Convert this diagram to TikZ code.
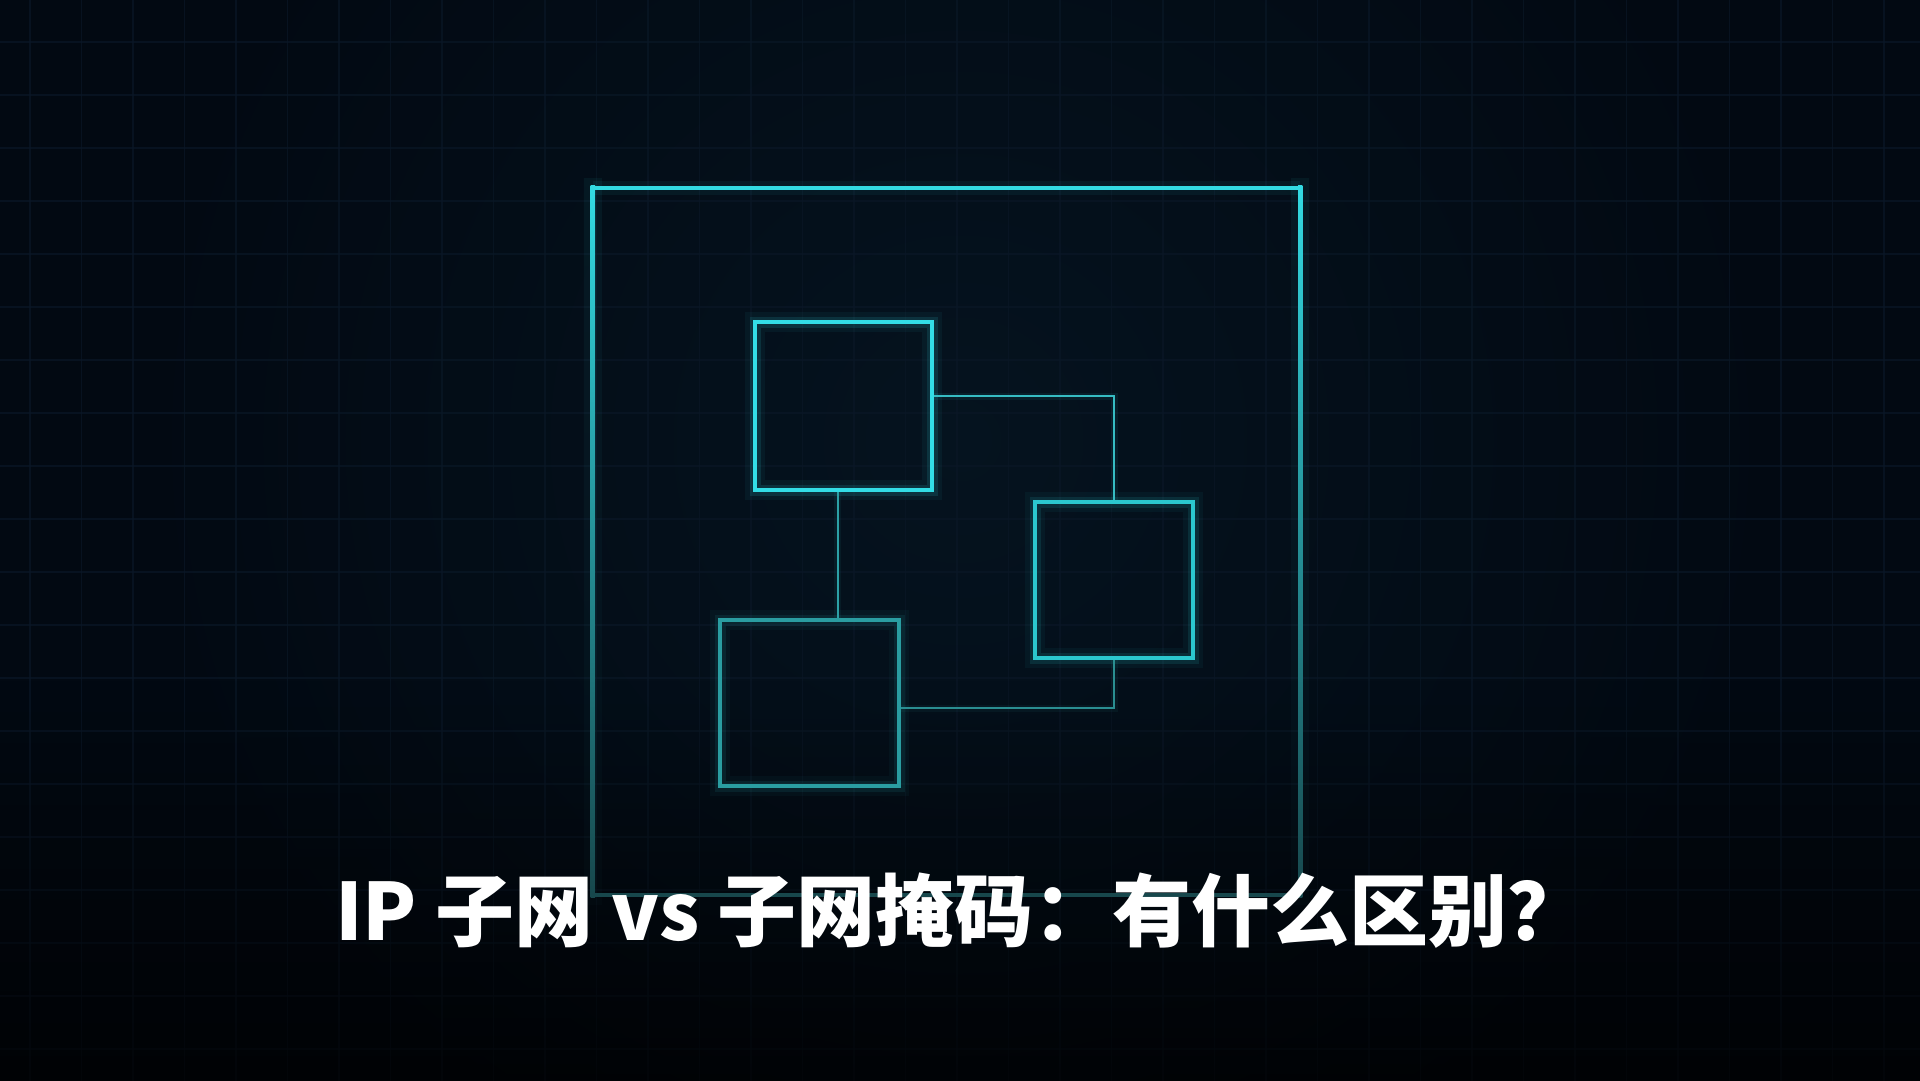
\documentclass[tikz,border=0pt]{standalone}
\usepackage{fontspec}
\newfontfamily\cjk{Noto Sans CJK SC}
\usetikzlibrary{calc,fadings}
\definecolor{bg}{HTML}{020912}
\definecolor{bglite}{HTML}{05131F}
\definecolor{gridc}{HTML}{0A1726}
\definecolor{ctop}{HTML}{33DAE2}
\definecolor{cbot}{HTML}{17474C}
\definecolor{ca}{HTML}{33DDE6}
\definecolor{cb}{HTML}{2BC7CE}
\definecolor{cc}{HTML}{2A9DA1}
\definecolor{lab}{HTML}{36BCC3}
\definecolor{lac}{HTML}{2CA0A6}
\definecolor{lbc}{HTML}{2A8E91}
\tikzset{
  glowbox/.style={draw=#1, line width=4.5pt, inner sep=0pt,
    preaction={draw=#1, line width=20pt, draw opacity=0.05},
    preaction={draw=#1, line width=11pt, draw opacity=0.12}},
  link/.style={draw=#1, line width=2pt,
    preaction={draw=#1, line width=7pt, draw opacity=0.08}},
  title/.style={text=white, font=\cjk\bfseries\fontsize{79}{83}\selectfont, inner sep=0pt}
}
\begin{document}
\begin{tikzpicture}[x=1pt,y=-1pt]
\useasboundingbox (0,0) rectangle (1920,1080);
% background
\fill[bg] (-20,-20) rectangle (1940,1100);
\shade[inner color=bglite, outer color=bg] (960,440) circle (820);
% grid
\foreach \gx in {30,81.5,...,1920} \draw[gridc, line width=1.2pt, opacity=0.7] (\gx,-20) -- (\gx,1100);
\foreach \gy in {42,95,...,1080} \draw[gridc, line width=1.2pt, opacity=0.7] (-20,\gy) -- (1940,\gy);
% bottom vignette
\fill[black, opacity=0.75, path fading=north] (-20,680) rectangle (1940,1100);
% outer frame
\node[minimum width=707pt, minimum height=707pt, inner sep=0pt] (frame) at (946.5,541.5) {};
\shade[top color=ctop, bottom color=cbot, opacity=0.06] ($(frame.north west)+(-9,-9)$) rectangle ($(frame.south west)+(9,9)$);
\shade[top color=ctop, bottom color=cbot, opacity=0.06] ($(frame.north east)+(-9,-9)$) rectangle ($(frame.south east)+(9,9)$);
\shade[top color=ctop, bottom color=cbot] ($(frame.north west)+(-2.2,-2.2)$) rectangle ($(frame.south west)+(2.2,2.2)$);
\shade[top color=ctop, bottom color=cbot] ($(frame.north east)+(-2.2,-2.2)$) rectangle ($(frame.south east)+(2.2,2.2)$);
\draw[ctop, line width=14pt, draw opacity=0.06] (frame.north west) -- (frame.north east);
\draw[ctop, line width=4.4pt] (frame.north west) -- (frame.north east);
\draw[cbot, line width=4.4pt] (frame.south west) -- (frame.south east);
% boxes
\node[glowbox=ca, minimum width=177pt, minimum height=168pt] (A) at (843.5,406) {};
\node[glowbox=cb, minimum width=158pt, minimum height=156pt] (B) at (1114,580) {};
\node[glowbox=cc, minimum width=179pt, minimum height=166pt] (C) at (809.5,703) {};
% connectors
\draw[link=lab] ([yshift=10pt]A.east) -| (B.north);
\draw[link=lac] ([xshift=-6pt]A.south) -- ([xshift=-6pt]A.south |- C.north);
\draw[link=lbc] (B.south) |- ([yshift=-5pt]C.east);
% title
\node[title] (t) at (961,911) {IP 子网 vs 子网掩码：有什么区别？};
\end{tikzpicture}
\end{document}
